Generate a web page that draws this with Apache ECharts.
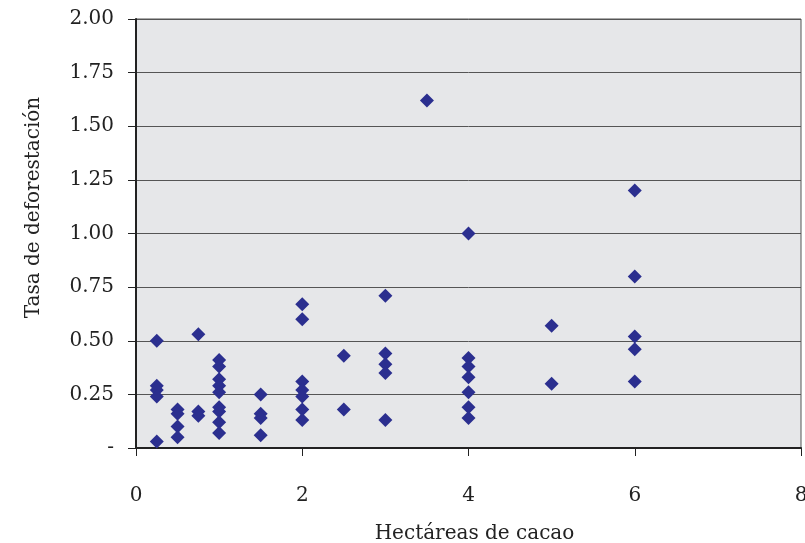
<!DOCTYPE html>
<html>
<head>
<meta charset="utf-8">
<script src="https://cdn.jsdelivr.net/npm/echarts@6/dist/echarts.min.js"></script>
<style>
  html, body { margin: 0; padding: 0; background: #ffffff; }
  #chart { width: 805px; height: 543px; }
</style>
</head>
<body>
<div id="chart"></div>
<script>
// Hectares of cacao per farm and the matching deforestation rate
const hectareas = [
  0.25, 0.25, 0.25, 0.25, 0.25,
  0.5, 0.5, 0.5, 0.5,
  0.75, 0.75, 0.75,
  1, 1, 1, 1, 1, 1, 1, 1, 1,
  1.5, 1.5, 1.5, 1.5,
  2, 2, 2, 2, 2, 2, 2,
  2.5, 2.5,
  3, 3, 3, 3, 3,
  3.5,
  4, 4, 4, 4, 4, 4, 4,
  5, 5,
  6, 6, 6, 6, 6
];
const tasa = [
  0.50, 0.29, 0.27, 0.24, 0.03,
  0.18, 0.16, 0.10, 0.05,
  0.53, 0.17, 0.15,
  0.41, 0.38, 0.32, 0.29, 0.26, 0.19, 0.17, 0.12, 0.07,
  0.25, 0.16, 0.14, 0.06,
  0.67, 0.60, 0.31, 0.27, 0.24, 0.18, 0.13,
  0.43, 0.18,
  0.71, 0.44, 0.39, 0.35, 0.13,
  1.62,
  1.00, 0.42, 0.38, 0.33, 0.26, 0.19, 0.14,
  0.57, 0.30,
  1.20, 0.80, 0.52, 0.46, 0.31
];
const xTicks = [0, 2, 4, 6, 8];
const yTicks = [0, 0.25, 0.5, 0.75, 1, 1.25, 1.5, 1.75, 2];

const points = hectareas.map((h, i) => [h, tasa[i]]);
const font = 'DejaVu Serif';

const chart = echarts.init(document.getElementById('chart'), null, { renderer: 'canvas' });
chart.setOption({
  animation: false,
  grid: {
    left: 136, right: 4, top: 19, bottom: 95,
    outerBoundsMode: 'none',
    containLabel: false,
    show: true,
    backgroundColor: '#e6e7e9',
    borderColor: '#555555',
    borderWidth: 1
  },
  xAxis: {
    type: 'value',
    min: xTicks[0], max: xTicks[xTicks.length - 1], interval: 2,
    name: 'Hectáreas de cacao',
    nameLocation: 'middle',
    nameGap: 76,
    nameTextStyle: { fontFamily: font, fontSize: 20, color: '#222', padding: [0, 0, 0, 12] },
    axisLine: { show: true, lineStyle: { color: '#222', width: 2 } },
    axisTick: { show: true, length: 8, lineStyle: { color: '#222', width: 1 } },
    axisLabel: { margin: 38, fontFamily: font, fontSize: 20, color: '#222' },
    splitLine: { show: false }
  },
  yAxis: {
    type: 'value',
    min: yTicks[0], max: yTicks[yTicks.length - 1], interval: 0.25,
    name: 'Tasa de deforestación',
    nameLocation: 'middle',
    nameGap: 92,
    nameTextStyle: { fontFamily: font, fontSize: 20, color: '#222', padding: [0, 0, 0, 52] },
    axisLine: { show: true, lineStyle: { color: '#222', width: 2 } },
    axisTick: { show: true, length: 8, lineStyle: { color: '#222', width: 1 } },
    axisLabel: {
      margin: 22, fontFamily: font, fontSize: 20, color: '#222',
      formatter: v => (v === 0 ? '-' : v.toFixed(2))
    },
    splitLine: { show: true, lineStyle: { color: '#555555', width: 1 } }
  },
  series: [{
    type: 'scatter',
    data: points,
    symbol: 'diamond',
    symbolSize: 14,
    itemStyle: { color: '#2b2f8f', opacity: 1 }
  }]
});
</script>
</body>
</html>
